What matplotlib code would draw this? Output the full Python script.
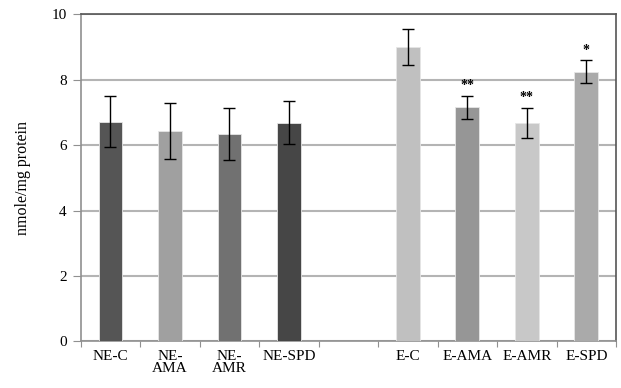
import numpy as np
import matplotlib
matplotlib.use("Agg")
import matplotlib.pyplot as plt

plt.rcParams['font.family'] = ['Liberation Serif', 'DejaVu Serif']

groups = ["NE-C", "NE-\nAMA", "NE-\nAMR", "NE-SPD", "", "E-C", "E-AMA", "E-AMR", "E-SPD"]
means = [6.71, 6.44, 6.35, 6.69, np.nan, 9.0, 7.16, 6.69, 8.24]
errs = [0.78, 0.86, 0.80, 0.66, np.nan, 0.54, 0.35, 0.46, 0.35]
stars = ["", "", "", "", "", "", "**", "**", "*"]
shades = ["#555555", "#a0a0a0", "#717171", "#464646", "#ffffff",
          "#c0c0c0", "#969696", "#c8c8c8", "#aaaaaa"]

fig, ax = plt.subplots(figsize=(6.21, 3.88), dpi=100)
fig.subplots_adjust(left=0.13, right=0.992, top=0.963, bottom=0.12)

x = np.arange(len(groups))
ax.bar(x, means, width=0.4, color=shades, edgecolor="#e6e6e6", linewidth=0.6, zorder=3)
ax.errorbar(x, means, yerr=errs, fmt="none", ecolor="black", elinewidth=1,
            capsize=4, capthick=1, zorder=4)

for xi, m, e, s in zip(x, means, errs, stars):
    if s:
        ax.text(xi, m + e + 0.12, s, ha="center", va="bottom", fontsize=10,
                fontweight="bold", zorder=5)

ax.set_xlim(-0.5, len(groups) - 0.5)
ax.set_ylim(0, 10)
ax.set_yticks([0, 2, 4, 6, 8, 10])
ax.yaxis.grid(True, color="#b4b4b4", linewidth=1.5, zorder=0)
ax.set_axisbelow(True)

# category ticks sit on the slot boundaries, labels in the middle
ax.set_xticks(np.arange(len(groups) + 1) - 0.5)
ax.set_xticklabels([])
ax.set_xticks(x, minor=True)
ax.set_xticklabels(groups, minor=True, fontsize=11, linespacing=0.95)
ax.tick_params(axis="x", which="minor", length=0, pad=6)
ax.tick_params(axis="x", which="major", length=4, color="#909090")
ax.tick_params(axis="y", length=6, color="#909090", labelsize=11, pad=4)

for side in ["left", "bottom"]:
    ax.spines[side].set_color("#909090")
    ax.spines[side].set_linewidth(1.2)
for side in ["top", "right"]:
    ax.spines[side].set_color("#555555")
    ax.spines[side].set_linewidth(1.2)

ax.set_ylabel("nmole/mg protein", fontsize=11.5, labelpad=15)

fig.savefig("out.png")
